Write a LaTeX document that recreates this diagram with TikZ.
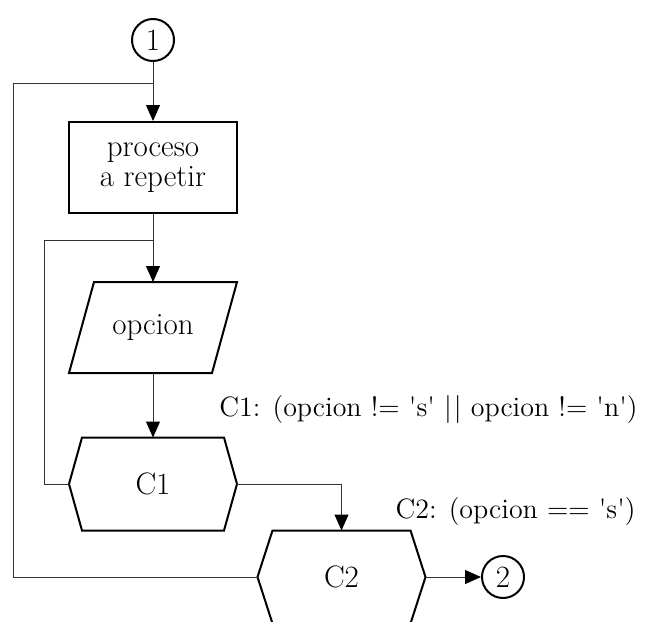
\documentclass[tikz,border=0pt]{standalone}
\usetikzlibrary{arrows.meta,positioning}

% outline of a condition node (pointed on both sides)
\newcommand{\condshape}[2]{%
  \draw[shapeline] ([xshift=#2]#1.north west) -- ([xshift=-#2]#1.north east) -- (#1.east)
    -- ([xshift=-#2]#1.south east) -- ([xshift=#2]#1.south west) -- (#1.west) -- cycle;}
% outline of an input node (slanted box)
\newcommand{\inshape}[2]{%
  \draw[shapeline] ([xshift=#2]#1.north west) -- (#1.north east)
    -- ([xshift=-#2]#1.south east) -- (#1.south west) -- cycle;}

\begin{document}
\begin{tikzpicture}[x=0.5pt,y=-0.5pt]
        \tikzstyle{every node}=[font=\fontsize{15.5}{15}\selectfont,inner sep=2pt]
        \tikzstyle{note}=[font=\fontsize{14}{15}\selectfont]
        \tikzstyle{shapeline}=[line width=1pt]
        \tikzstyle{link}=[line width=0.5pt,black!80]
        \tikzstyle{arr}=[link,-{Triangle[length=8pt,width=7pt,black]}]
        \tikzstyle{conn}=[draw,circle,line width=1pt,minimum size=21pt]
        \tikzstyle{proc}=[draw,line width=1pt,minimum width=84pt,minimum height=45.5pt,align=center]
        \tikzstyle{inbox}=[outer sep=0pt,minimum width=84pt,minimum height=45.5pt]
        \tikzstyle{cond}=[outer sep=0pt,minimum width=84pt,minimum height=46.5pt]

        \useasboundingbox (0,0) rectangle (646,621);
        \clip (0,0) rectangle (646,621);

        % entry connector
        \node[conn] (ini) at (153,40) {1};

        % process block
        \node[proc, below of=ini, node distance=63.75pt] (proceso) {proceso\\a repetir};
        \draw[arr] (ini) -- (proceso);

        % read option
        \node[inbox, below of=proceso, node distance=80pt] (leer) {opcion};
        \inshape{leer}{12.5pt}
        \draw[arr] (proceso) -- (leer);

        % first condition
        \node[cond, below of=leer, node distance=78.25pt] (c1) {C1};
        \condshape{c1}{6.5pt}
        \draw[arr] (leer) -- (c1);
        \node[note, anchor=east] (lblc1) at (642,410)
          {C1: (opcion != \textquotesingle s\textquotesingle\ |\kern1pt| opcion != \textquotesingle n\textquotesingle)};

        % second condition
        \node[cond] (c2) at (341.5,577) {C2};
        \condshape{c2}{7.5pt}
        \draw[arr] (c1.east) -| (c2.north);
        \node[note, anchor=east] (lblc2) at (640,512)
          {C2: (opcion == \textquotesingle s\textquotesingle)};

        % exit connector
        \node[conn, right of=c2, node distance=80.75pt] (fin) {2};
        \draw[arr] (c2.east) -- (fin);

        % loops back
        \coordinate (jn1) at (153,240);
        \coordinate (jn2) at (153,83);
        \draw[link] (c1.west) -- ++(-12.5pt,0) |- (jn1);
        \draw[link] (c2.west) -| ([xshift=-70pt]jn2) -- (jn2);

    \end{tikzpicture}
\end{document}
